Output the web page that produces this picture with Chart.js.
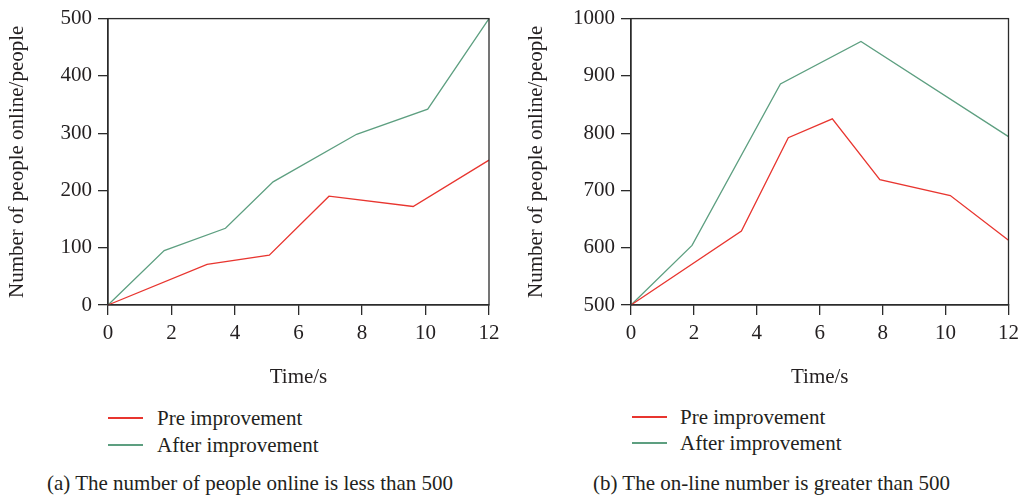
<!DOCTYPE html>
<html>
<head>
<meta charset="utf-8">
<script src="https://cdn.jsdelivr.net/npm/chart.js@4/dist/chart.umd.min.js"></script>
<style>
  html, body { margin: 0; padding: 0; background: #fff; }
  body { width: 1025px; height: 498px; position: relative; overflow: hidden;
         font-family: "Liberation Serif", serif; color: #231f20; }
  .panel { position: absolute; top: 0; height: 498px; }
  .panel canvas { position: absolute; left: 0; top: 0; }
  .legend-row { position: absolute; font-size: 21px; line-height: 24px; white-space: nowrap; }
  .legend-row .swatch { position: absolute; top: 11px; width: 35px; height: 2px; }
  .legend-row .label { position: absolute; top: 0; }
  .caption { position: absolute; top: 471px; font-size: 21px; line-height: 24px; white-space: nowrap; }
</style>
</head>
<body>
<div class="panel" id="panelA" style="left:0; width:512px;">
  <canvas id="chartA" width="512" height="400"></canvas>
  <div class="legend-row" style="left:108px; top:406px;">
    <span class="swatch" style="left:0; background-color:#e8352f;"></span>
    <span class="label" style="left:49px;">Pre improvement</span>
  </div>
  <div class="legend-row" style="left:108px; top:433px;">
    <span class="swatch" style="left:0; background-color:#5d9f80;"></span>
    <span class="label" style="left:49px;">After improvement</span>
  </div>
  <div class="caption" style="left:47px;">(a) The number of people online is less than 500</div>
</div>
<div class="panel" id="panelB" style="left:512px; width:513px;">
  <canvas id="chartB" width="513" height="400"></canvas>
  <div class="legend-row" style="left:120px; top:405px;">
    <span class="swatch" style="left:0; background-color:#e8352f;"></span>
    <span class="label" style="left:48px;">Pre improvement</span>
  </div>
  <div class="legend-row" style="left:120px; top:431px;">
    <span class="swatch" style="left:0; background-color:#5d9f80;"></span>
    <span class="label" style="left:48px;">After improvement</span>
  </div>
  <div class="caption" style="left:81px;">(b) The on-line number is greater than 500</div>
</div>
<script>
// (a) fewer than 500 people online
const timeA_pre = [0, 3.12, 5.08, 6.96, 9.61, 12];
const usersA_pre = [0, 71, 87, 190, 172, 253];
const timeA_after = [0, 1.77, 3.70, 5.20, 7.83, 10.07, 12];
const usersA_after = [0, 95, 134, 215, 298, 342, 500];

// (b) more than 500 people online
const timeB_pre = [0, 3.51, 5.00, 6.40, 7.91, 10.15, 12];
const usersB_pre = [500, 629, 792, 825, 719, 691, 613];
const timeB_after = [0, 1.94, 4.75, 7.31, 12];
const usersB_after = [500, 604, 886, 960, 794];

const xTicks = [0, 2, 4, 6, 8, 10, 12];
const yTicksA = [0, 100, 200, 300, 400, 500];
const yTicksB = [500, 600, 700, 800, 900, 1000];

const seriesNames = ['Pre improvement', 'After improvement'];
const RED = '#e8352f';
const GREEN = '#5d9f80';
const AXIS = '#2b2b2b';
const FONT = 'Liberation Serif';

const toPoints = (xs, ys) => xs.map((x, i) => ({ x, y: ys[i] }));

const frameBox = {
  id: 'frameBox',
  afterDraw(chart) {
    const { ctx, chartArea: a } = chart;
    ctx.save();
    ctx.strokeStyle = AXIS;
    ctx.lineWidth = 1.3;
    ctx.strokeRect(a.left, a.top, a.right - a.left, a.bottom - a.top);
    ctx.restore();
  }
};

function makeChart(id, pre, after, yTicks, opts) {
  const ctx = document.getElementById(id).getContext('2d');
  return new Chart(ctx, {
    type: 'line',
    data: {
      datasets: [
        { label: seriesNames[0], data: pre, borderColor: RED, borderWidth: 1.3,
          pointRadius: 0, tension: 0, clip: false },
        { label: seriesNames[1], data: after, borderColor: GREEN, borderWidth: 1.3,
          pointRadius: 0, tension: 0, clip: false }
      ]
    },
    plugins: [frameBox],
    options: {
      responsive: false,
      animation: false,
      events: [],
      layout: { autoPadding: false, padding: { left: 0, top: 14, right: opts.padRight, bottom: 0 } },
      plugins: { legend: { display: false }, tooltip: { enabled: false } },
      scales: {
        x: {
          type: 'linear', min: 0, max: 12,
          afterBuildTicks: s => { s.ticks = xTicks.map(v => ({ value: v })); },
          afterFit: s => { s.height = 95; },
          grid: { drawOnChartArea: false, drawTicks: true, tickLength: 10, color: AXIS, lineWidth: 1.3 },
          border: { display: true, color: AXIS, width: 1.3 },
          ticks: { color: '#231f20', font: { family: FONT, size: 21 }, padding: 6, maxRotation: 0,
                   callback: v => String(v) },
          title: { display: true, text: 'Time/s', color: '#231f20',
                   font: { family: FONT, size: 21 }, padding: { top: 0, bottom: 10 } }
        },
        y: {
          type: 'linear', min: yTicks[0], max: yTicks[yTicks.length - 1],
          afterBuildTicks: s => { s.ticks = yTicks.map(v => ({ value: v })); },
          afterFit: s => { s.width = opts.yWidth; },
          grid: { drawOnChartArea: false, drawTicks: true, tickLength: 10, color: AXIS, lineWidth: 1.3 },
          border: { display: true, color: AXIS, width: 1.3 },
          ticks: { color: '#231f20', font: { family: FONT, size: 21 }, padding: 6,
                   callback: v => String(v) },
          title: { display: true, text: 'Number of people online/people', color: '#231f20',
                   font: { family: FONT, size: 21 }, padding: { top: opts.titlePad, bottom: 0 } }
        }
      }
    }
  });
}

makeChart('chartA', toPoints(timeA_pre, usersA_pre), toPoints(timeA_after, usersA_after), yTicksA,
  { padRight: 23, yWidth: 108, titlePad: 5 });
makeChart('chartB', toPoints(timeB_pre, usersB_pre), toPoints(timeB_after, usersB_after), yTicksB,
  { padRight: 11, yWidth: 119, titlePad: 12 });
</script>
</body>
</html>
